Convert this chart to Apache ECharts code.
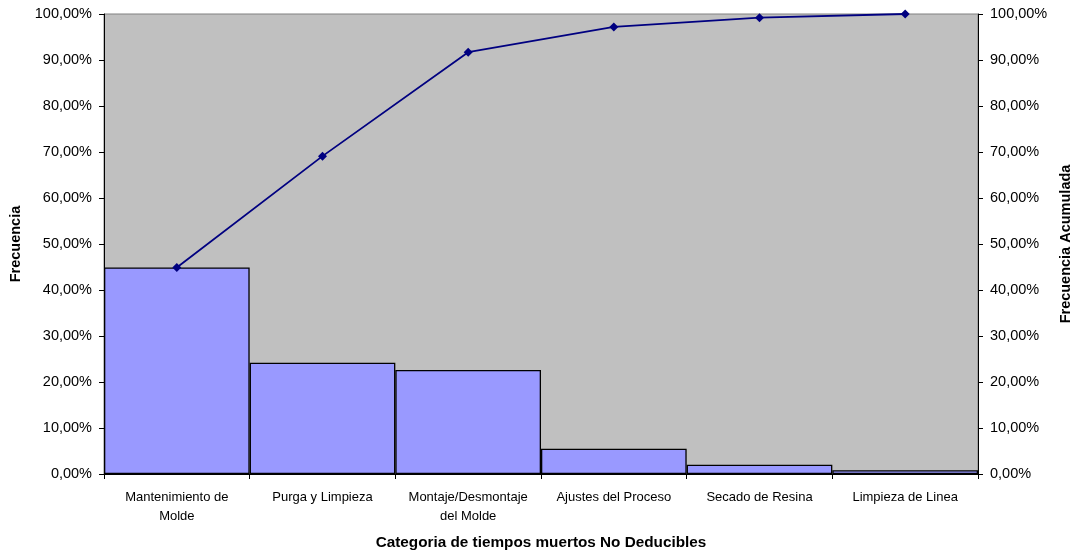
<!DOCTYPE html>
<html>
<head>
<meta charset="utf-8">
<script src="https://cdn.jsdelivr.net/npm/echarts@6/dist/echarts.min.js"></script>
<style>
  html, body { margin: 0; padding: 0; background: #ffffff; }
  #chart { width: 1075px; height: 551px; }
</style>
</head>
<body>
<div id="chart"></div>
<script>
// Categories of non-deductible downtime, ordered by frequency (Pareto)
const categories = [
  'Mantenimiento de\nMolde',
  'Purga y Limpieza',
  'Montaje/Desmontaje\ndel Molde',
  'Ajustes del Proceso',
  'Secado de Resina',
  'Limpieza de Linea'
];
// Relative frequency of each category (%)
const frequency = [44.9, 24.2, 22.6, 5.5, 2.0, 0.8];
// Cumulative frequency (%)
const cumulative = [44.9, 69.1, 91.7, 97.2, 99.2, 100.0];
// Axis tick values (%)
const tickValues = [0, 10, 20, 30, 40, 50, 60, 70, 80, 90, 100];

const FONT = '"Liberation Sans", Arial, sans-serif';
const pct = v => v.toFixed(2).replace('.', ',') + '%';

const yAxisBase = (position, name, nameGap) => ({
  type: 'value',
  position: position,
  min: tickValues[0],
  max: tickValues[tickValues.length - 1],
  interval: tickValues[1] - tickValues[0],
  name: name,
  nameLocation: 'middle',
  nameGap: nameGap,
  nameTextStyle: { fontFamily: FONT, fontSize: 14.5, fontWeight: 'bold', color: '#000' },
  axisLine: { show: true, lineStyle: { color: '#000', width: 1 } },
  axisTick: { show: true, length: 5, lineStyle: { color: '#000' } },
  axisLabel: { formatter: pct, fontFamily: FONT, fontSize: 14.5, color: '#000', margin: 12 },
  splitLine: { show: false }
});

const chart = echarts.init(document.getElementById('chart'), null, { renderer: 'canvas' });
chart.setOption({
  animation: false,
  backgroundColor: '#ffffff',
  grid: {
    left: 104, right: 97, top: 14, bottom: 77,
    containLabel: false,
    outerBoundsMode: 'none',
    show: true, backgroundColor: '#C0C0C0', borderColor: '#808080', borderWidth: 1
  },
  xAxis: {
    type: 'category',
    data: categories,
    boundaryGap: true,
    name: 'Categoria de tiempos muertos No Deducibles',
    nameLocation: 'middle',
    nameGap: 61,
    nameTextStyle: { fontFamily: FONT, fontSize: 15.3, fontWeight: 'bold', color: '#000' },
    axisLine: { show: true, lineStyle: { color: '#000', width: 1 } },
    axisTick: { show: true, alignWithLabel: false, length: 5, lineStyle: { color: '#000' } },
    axisLabel: { fontFamily: FONT, fontSize: 13, color: '#000', margin: 14, lineHeight: 19, interval: 0 }
  },
  yAxis: [
    yAxisBase('left', 'Frecuencia', 80),
    yAxisBase('right', 'Frecuencia Acumulada', 79)
  ],
  series: [
    {
      type: 'bar',
      yAxisIndex: 0,
      data: frequency,
      barCategoryGap: '0%',
      itemStyle: { color: '#9999FF', borderColor: '#000000', borderWidth: 1.3 }
    },
    {
      type: 'line',
      yAxisIndex: 1,
      data: cumulative,
      symbol: 'diamond',
      symbolSize: 9,
      lineStyle: { color: '#000080', width: 1.8 },
      itemStyle: { color: '#000080' }
    }
  ]
});
</script>
</body>
</html>
